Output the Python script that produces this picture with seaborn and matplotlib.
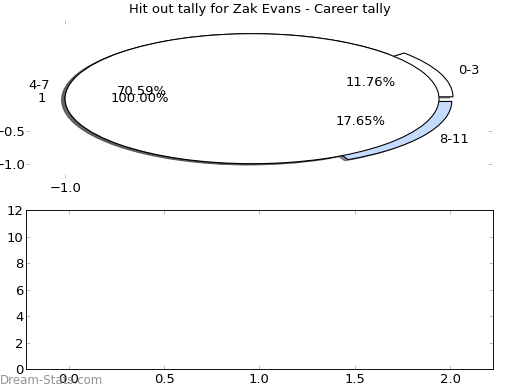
import matplotlib
matplotlib.use("Agg")
import matplotlib.pyplot as plt
import seaborn as sns

title = "Hit out tally for Zak Evans - Career tally"
ranges = ["0-3", "4-7", "8-11"]
counts = [2, 12, 3]
explode_amt = [0.08, 0.0, 0.08]
wedge_colors = ["#ffffff", "#ffffff", "#c6dcff"]
season_labels = ["1"]
season_counts = [1]
pie_xticks = [-1.0]
pie_yticks = [-1.0, -0.5]
bar_xticks = [0.0, 0.5, 1.0, 1.5, 2.0]
bar_yticks = [0, 2, 4, 6, 8, 10, 12]

FS = 14.5

sns.set_theme(style="white")
plt.rcParams['font.family'] = ['DejaVu Sans']
plt.rcParams['axes.unicode_minus'] = True

fig = plt.figure(figsize=(8, 6), dpi=65)
fig.patch.set_facecolor("white")
ax1 = fig.add_axes([0.05, 0.5436, 0.896, 0.405])
ax2 = fig.add_axes([0.05, 0.053, 0.898, 0.408])

shadow = {'alpha': 0.6}
wp = {'edgecolor': 'black', 'linewidth': 1.2}
tp = {'fontsize': FS, 'color': 'black'}

ax1.pie(counts, labels=ranges, explode=explode_amt, colors=wedge_colors,
        autopct='%1.2f%%', shadow=shadow, wedgeprops=wp, textprops=tp)
ax1.pie(season_counts, labels=season_labels, colors=['#ffffff'],
        autopct='%1.2f%%', shadow=shadow, wedgeprops=wp, textprops=tp)
ax1.set_aspect('auto')
ax1.set_xlim(-1.209, 1.283)
ax1.set_ylim(-1.22, 1.21)
ax1.set_frame_on(False)
ax1.set_xticks(pie_xticks)
ax1.set_xticklabels([f"{v:.1f}".replace('-', '\u2212') for v in pie_xticks])
ax1.set_yticks(pie_yticks)
ax1.set_yticklabels([f"{v:.1f}".replace('-', '\u2212') for v in pie_yticks])
ax1.tick_params(direction='in', length=4, width=0.8, color='#aaaaaa',
                top=True, right=True, bottom=True, left=True,
                labelsize=FS, labelcolor='black')
ax1.tick_params(axis='y', pad=1)
ax1.tick_params(axis='x', pad=4)

ax2.set_xlim(-0.225, 2.225)
ax2.set_ylim(0, 12)
ax2.set_xticks(bar_xticks)
ax2.set_xticklabels([f"{v:.1f}" for v in bar_xticks])
ax2.set_yticks(bar_yticks)
ax2.set_yticklabels([str(v) for v in bar_yticks])
for s in ax2.spines.values():
    s.set_visible(True)
    s.set_color('black')
    s.set_linewidth(1.0)
ax2.tick_params(direction='in', length=4, width=0.8, color='#aaaaaa',
                top=True, right=True, bottom=True, left=True,
                labelsize=FS, labelcolor='black')
ax2.tick_params(axis='y', pad=3)
ax2.tick_params(axis='x', pad=4)
ax2.grid(False)

fig.text(0.5, 1 - 10 / 390, title, ha='center', va='center', fontsize=FS, color='black')
fig.text(0.0, 1 - 380 / 390, "Dream-Stats.com", ha='left', va='center',
         fontsize=13, color='#888888', alpha=0.9, zorder=10)

fig.savefig("out.png", dpi=65, facecolor="white")
